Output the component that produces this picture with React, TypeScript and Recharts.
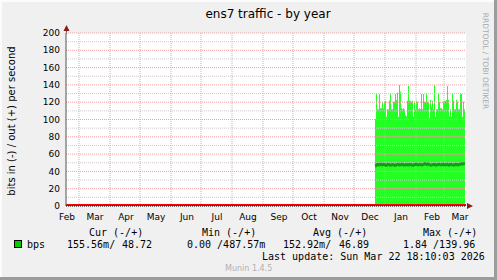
import React from "react";
import {
  ComposedChart,
  Area,
  Line,
  XAxis,
  YAxis,
  ReferenceLine,
} from "recharts";

// day 0 = 1 Mar 2025, one px per day on the time axis
const monthStarts = [-28, 0, 31, 61, 92, 122, 153, 184, 214, 245, 275, 306, 337, 365];
const monthNames = ["Feb", "Mar", "Apr", "May", "Jun", "Jul", "Aug", "Sep", "Oct", "Nov", "Dec", "Jan", "Feb", "Mar"];
const labelDays = monthStarts.map((d) => d + 16);

const majorY = [0, 20, 40, 60, 80, 100, 120, 140, 160, 180, 200];
const minorY = [10, 30, 50, 70, 90, 110, 130, 150, 170, 190];

const firstDay = 296; // Dec 22
// out (+) max per day, bits/s
const outMax = [
  100.6, 129.5, 111.8, 111.8, 129.5, 113, 113, 120.6, 113, 120.6,
  121.8, 103.3, 111.8, 111.8, 121.8, 129.5, 111.8, 111.8, 120.6, 120.6,
  129.5, 122.5, 131, 103.3, 139.9, 132.2, 113, 111.8, 113, 111.8,
  105, 103.9, 121.8, 138.7, 121.8, 121.8, 120.6, 121.8, 103.3, 120.6,
  111.8, 121.8, 120.6, 111.8, 113, 111.8, 129.5, 111.8, 129.5, 120.6,
  120.6, 129.5, 120.6, 120.6, 101.4, 122.5, 114.9, 121.8, 111.8, 139.9,
  103.3, 111.8, 111.8, 130.4, 120.6, 113, 113, 111.8, 120.6, 121.8,
  121.8, 122.5, 138.7, 122.5, 103.9, 111.8, 103.3, 130.4, 121.8, 111.8,
  111.8, 122.5, 120.6, 111.8, 111.8, 130.4, 129.5, 103.3, 120.6, 111.8,
  111.8,
];
// out (+) average per day
const outAvg = [
  46.3, 46.6, 47.9, 48.2, 47.6, 47.8, 48.3, 47.5, 47.9, 48.1,
  47.4, 47.0, 47.6, 48.2, 47.8, 47.3, 47.1, 47.7, 48.0, 47.5,
  46.9, 47.2, 47.8, 48.1, 47.6, 47.4, 47.9, 48.3, 47.7, 47.2,
  47.5, 48.0, 47.8, 47.4, 47.6, 48.2, 47.9, 47.3, 47.1, 47.6,
  48.0, 48.4, 47.8, 47.5, 47.9, 48.2, 47.7, 47.4, 47.8, 48.5,
  48.9, 48.3, 47.9, 48.6, 48.1, 47.6, 47.2, 47.5, 47.9, 48.1,
  47.7, 47.3, 47.6, 48.0, 48.2, 47.8, 47.5, 47.9, 48.3, 47.7,
  47.4, 47.8, 48.1, 47.6, 47.3, 47.9, 48.2, 47.8, 47.5, 47.2,
  47.7, 48.1, 47.9, 47.4, 47.8, 48.3, 48.6, 48.9, 48.7, 48.9,
  48.72,
];

const data = outMax.map((v, i) => ({ day: firstDay + i, max: v, avg: outAvg[i] }));

const SANS = "DejaVu Sans";
const MONO = "DejaVu Sans Mono";
const RED_GRID = "#f2a0a0";
const GRAY_GRID = "#cccccc";

const ZeroLine = (props: any) => {
  const { x1, x2, y1 } = props;
  return <line x1={x1} x2={x2} y1={y1 - 1} y2={y1 - 1} stroke="#ff0000" strokeWidth={2} />;
};

export default function App() {
  return (
    <div style={{ position: "fixed", left: 0, top: 0, width: 497, height: 280 }}>
      <svg width={497} height={280} style={{ position: "absolute", left: 0, top: 0 }}>
        <rect x={0} y={0} width={497} height={280} fill="#f0f0f0" />
        <rect x={0} y={0} width={497} height={2} fill="#fcfcfc" />
        <rect x={0} y={0} width={2} height={280} fill="#fcfcfc" />
        <rect x={0} y={277} width={497} height={3} fill="#9c9c9c" />
        <rect x={494} y={0} width={3} height={280} fill="#9c9c9c" />
        <rect x={66} y={33} width={400} height={173} fill="#ffffff" />

        <text x={268} y={18} textAnchor="middle" fontFamily={SANS} fontSize={12}>
          ens7 traffic - by year
        </text>
        <text transform="translate(15,121) rotate(-90)" textAnchor="middle" fontFamily={SANS} fontSize={10}>
          bits in (-) / out (+) per second
        </text>
        <text transform="translate(483,61) rotate(90)" textAnchor="middle" fontFamily={SANS} fontSize={7.5} fill="#aaaaaa">
          RRDTOOL / TOBI OETIKER
        </text>

        <g fontFamily={MONO} fontSize={10} fill="#000">
          <text x={89} y={236}>Cur (-/+)</text>
          <text x={202} y={236}>Min (-/+)</text>
          <text x={313} y={236}>Avg (-/+)</text>
          <text x={423} y={236}>Max (-/+)</text>
          <text x={27} y={248}>bps</text>
          <text x={67} y={248}>155.56m/</text>
          <text x={152} y={248} textAnchor="end">48.72</text>
          <text x={187} y={248}>0.00 /487.57m</text>
          <text x={283} y={248}>152.92m/</text>
          <text x={369} y={248} textAnchor="end">46.89</text>
          <text x={403} y={248}>1.84 /139.96</text>
          <text x={262} y={260}>Last update: Sun Mar 22 18:10:03 2026</text>
        </g>
        <rect x={14.5} y={240.5} width={7} height={7} fill="#00cc00" stroke="#000" strokeWidth={1} />
        <text x={225} y={271} fontFamily={SANS} fontSize={8} fill="#b0b0b0">
          Munin 1.4.5
        </text>

        {/* axis arrows */}
        <line x1={66.5} x2={66.5} y1={29} y2={34} stroke="#555" />
        <polygon points="63.5,31 69.5,31 66.5,25" fill="#8b1a1a" />
        <polygon points="467,203 467,209 473,206" fill="#8b1a1a" />
      </svg>

      <div style={{ position: "absolute", left: 0, top: 0 }}>
        <ComposedChart
          width={497}
          height={280}
          data={data}
          margin={{ top: 33, right: 31, bottom: 54, left: 6 }}
        >
          <XAxis
            dataKey="day"
            type="number"
            domain={[-13, 387]}
            allowDataOverflow
            ticks={labelDays}
            interval={0}
            tickFormatter={(d: number) => monthNames[labelDays.indexOf(d)]}
            tickLine={false}
            tickSize={0}
            tickMargin={8}
            height={20}
            axisLine={{ stroke: "#000", strokeDasharray: "1 1" }}
            tick={{ fontSize: 9, fill: "#000", fontFamily: SANS }}
          />
          <YAxis
            type="number"
            domain={[0, 200]}
            ticks={majorY}
            interval={0}
            width={60}
            tickLine={false}
            tickSize={0}
            tickMargin={6}
            axisLine={{ stroke: "#555" }}
            tick={{ fontSize: 9, fill: "#000", fontFamily: SANS }}
          />
          <Area
            type="stepAfter"
            dataKey="max"
            fill="#22ff22"
            fillOpacity={1}
            stroke="none"
            isAnimationActive={false}
          />
          {minorY.map((v) => (
            <ReferenceLine key={`mi${v}`} y={v} stroke={GRAY_GRID} strokeDasharray="1 1" zIndex={150} />
          ))}
          {majorY.slice(1).map((v) => (
            <ReferenceLine key={`ma${v}`} y={v} stroke={RED_GRID} strokeDasharray="1 1" zIndex={150} />
          ))}
          {monthStarts.map((d) => (
            <ReferenceLine key={`m${d}`} x={d} stroke={RED_GRID} strokeDasharray="1 1" zIndex={150} />
          ))}
          <ReferenceLine y={0} shape={ZeroLine} zIndex={450} />
          <Line
            type="linear"
            dataKey="avg"
            stroke="#129e12"
            strokeWidth={3}
            dot={false}
            isAnimationActive={false}
          />
        </ComposedChart>
      </div>
    </div>
  );
}
